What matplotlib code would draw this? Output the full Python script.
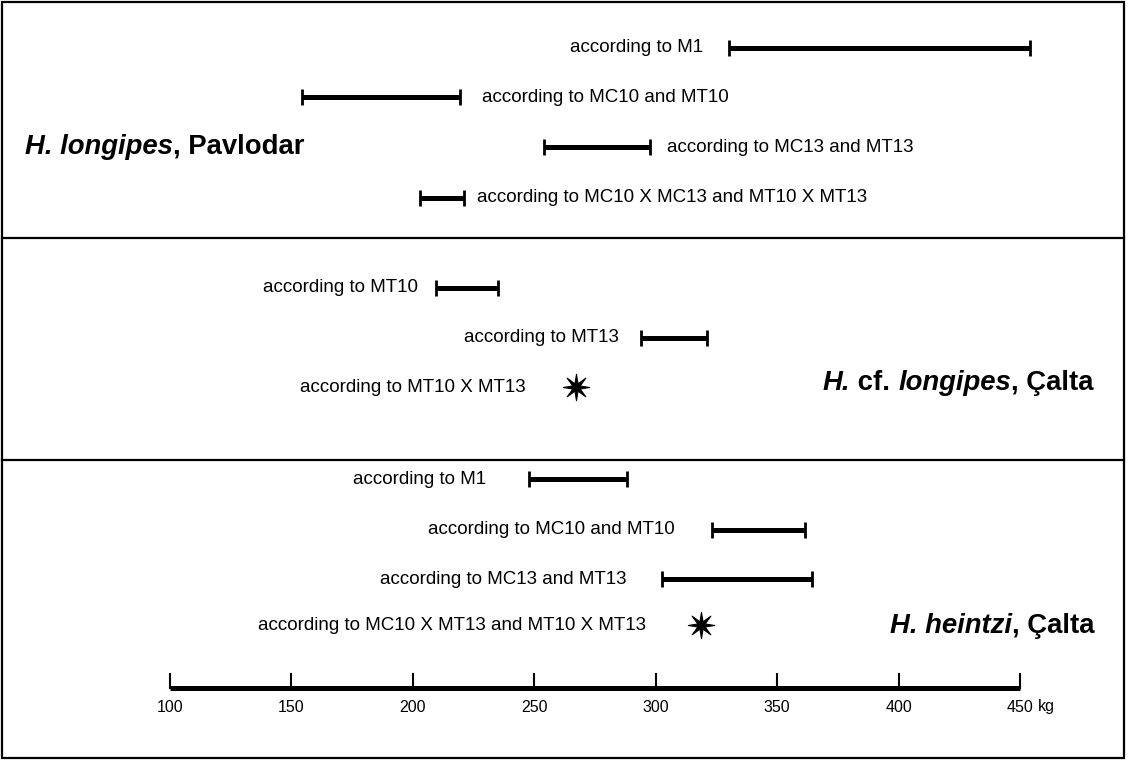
import matplotlib
matplotlib.use("Agg")
import numpy as np
import matplotlib.pyplot as plt
from matplotlib.patches import Rectangle
from matplotlib.path import Path

plt.rcParams['font.family'] = ['Liberation Sans', 'DejaVu Sans']

# weight ranges in kg (low, high); a single value is drawn as a star
pav_labels = ["according to M1",
              "according to MC10 and MT10",
              "according to MC13 and MT13",
              "according to MC10 X MC13 and MT10 X MT13"]
pav_low = [330, 154.5, 254, 203]
pav_high = [454, 219.5, 297.5, 221]

cf_labels = ["according to MT10",
             "according to MT13",
             "according to MT10 X MT13"]
cf_low = [209.5, 294, 267]
cf_high = [235, 321, 267]

hei_labels = ["according to M1",
              "according to MC10 and MT10",
              "according to MC13 and MT13",
              "according to MC10 X MT13 and MT10 X MT13"]
hei_low = [248, 323, 302.5, 318.5]
hei_high = [288, 361.5, 364.5, 318.5]

scale_ticks = [100, 150, 200, 250, 300, 350, 400, 450]
scale_unit = "kg"

# layout (pixel rows, label side and gap in pixels)
pav_rows = [48, 97, 147, 198]
pav_side = ['left', 'right', 'right', 'right']
pav_gap = [25, 22, 17, 13]
cf_rows = [288, 338, 387]
cf_side = ['left', 'left', 'left']
cf_gap = [18, 22, 40]
hei_rows = [479, 530, 579, 625]
hei_side = ['left', 'left', 'left', 'left']
hei_gap = [43, 37, 35, 45]

FS = 13.5
TITLE_FS = 19.8
TICK_FS = 11.5

# eight-point star, like the single estimates in the original
ang = np.pi / 2 + np.arange(16) * np.pi / 8
rad = np.where(np.arange(16) % 2 == 0, 1.0, 0.3)
star_verts = np.column_stack([rad * np.cos(ang), rad * np.sin(ang)])
star_verts = np.vstack([star_verts, star_verts[:1]])
STAR = Path(star_verts, closed=True)

fig = plt.figure(figsize=(11.31, 7.6), dpi=100)
ax = fig.add_axes([0, 0, 1, 1])
ax.set_xlim(30.0, 495.7)
ax.set_ylim(760, 0)
ax.axis('off')

# frame and panel separators
ax.add_patch(Rectangle((0.002, 0.003), 0.9918, 0.994, transform=ax.transAxes,
                       fill=False, lw=1.6, color='black'))
for ysep in [238, 460]:
    ax.plot([0.002, 0.994], [1 - ysep / 760] * 2, transform=ax.transAxes,
            color='black', lw=1.6)


def draw_rows(labels, lows, highs, rows, sides, gaps):
    for lab, lo, hi, y, side, gap in zip(labels, lows, highs, rows, sides, gaps):
        if lo == hi:
            ax.plot([lo], [y], marker=STAR, ms=19, color='black', mew=0.8)
            half = 10
        else:
            ax.plot([lo, hi], [y, y], color='black', lw=3.6, solid_capstyle='butt')
            ax.plot([lo, hi], [y, y], ls='none', marker='|', ms=11, mew=2,
                    color='black')
            half = 0
        if side == 'left':
            ax.annotate(lab, (lo, y), xytext=(-(gap + half), 0),
                        textcoords='offset pixels', ha='right', va='center',
                        fontsize=FS)
        else:
            ax.annotate(lab, (hi, y), xytext=(gap + half, 0),
                        textcoords='offset pixels', ha='left', va='center',
                        fontsize=FS)


draw_rows(pav_labels, pav_low, pav_high, pav_rows, pav_side, pav_gap)
draw_rows(cf_labels, cf_low, cf_high, cf_rows, cf_side, cf_gap)
draw_rows(hei_labels, hei_low, hei_high, hei_rows, hei_side, hei_gap)


def title(parts, x, y):
    # parts: list of (text, style); chained left to right
    prev = None
    for txt, style in parts:
        kw = dict(fontsize=TITLE_FS, fontweight='bold', fontstyle=style,
                  va='center', ha='left')
        if prev is None:
            prev = ax.text(x, y, txt, transform=ax.transAxes, **kw)
        else:
            kw['va'] = 'bottom'
            prev = ax.annotate(txt, xy=(1, 0), xycoords=prev, **kw)


title([("H. longipes", 'italic'), (", Pavlodar", 'normal')], 25 / 1131, 1 - 147 / 760)
title([("H.", 'italic'), (" cf. ", 'normal'), ("longipes", 'italic'),
       (", Çalta", 'normal')], 823 / 1131, 1 - 383 / 760)
title([("H. heintzi", 'italic'), (", Çalta", 'normal')], 890 / 1131, 1 - 626 / 760)

# weight scale
axis_y = 688
ax.plot([scale_ticks[0], scale_ticks[-1]], [axis_y, axis_y], color='black',
        lw=3.6, solid_capstyle='butt')
last = None
for t in scale_ticks:
    ax.plot([t, t], [axis_y, axis_y - 14], color='black', lw=1.5)
    last = ax.text(t, axis_y + 19, str(t), ha='center', va='center', fontsize=TICK_FS)
# unit written right after the last tick label
ax.annotate(scale_unit, xy=(1, 0), xycoords=last, xytext=(4, 0),
            textcoords='offset pixels', ha='left', va='bottom', fontsize=TICK_FS)

fig.savefig("out.png", dpi=100, facecolor='white')
